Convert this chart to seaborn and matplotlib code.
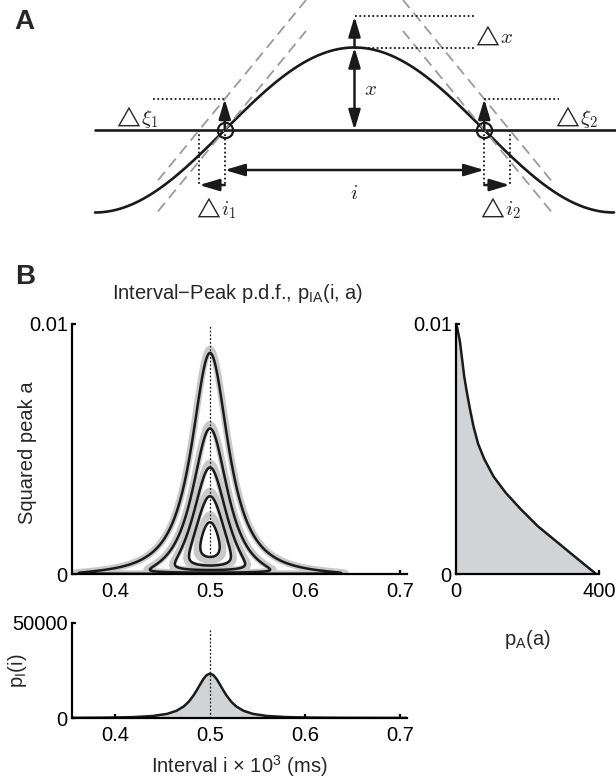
import numpy as np
import matplotlib
matplotlib.use("Agg")
import matplotlib.pyplot as plt
import seaborn as sns

# ---------------- data ----------------
# Panel A: schematic threshold crossing of a cosine-shaped pulse (phase units)
threshold = 0.0
peak_height = 1.0
noise_shift = 0.376      # size of the noise offsets (delta xi, delta x)
tangent_slope = 1.22     # slope of the dashed tangent lines

# Panel B, joint density p_IA(i, a): exponential squared peak, jitter ~ 1/sqrt(a)
interval_centre = 0.5    # ms
peak_rate = 400.0        # 1 / mean squared peak
jitter_scale = 0.0009    # interval spread (ms * sqrt(a))
low_peak_floor = 3e-5    # keeps the spread finite for vanishing peaks
loop_tops = [0.00884, 0.00582, 0.00426, 0.00311, 0.00207]  # squared peak at top of each contour

# Marginal p_I(i)
interval_ms = [0.355, 0.38, 0.40, 0.42, 0.44, 0.455, 0.465, 0.4725, 0.4775, 0.4825,
               0.486, 0.4895, 0.493, 0.4965, 0.5,
               0.5035, 0.507, 0.5105, 0.514, 0.5175, 0.5225, 0.5275, 0.535, 0.545,
               0.56, 0.58, 0.60, 0.62, 0.645, 0.707]
p_interval = [90, 150, 260, 490, 1060, 2180, 3840, 6130, 8490, 11740,
              14530, 17570, 20470, 22600, 23400,
              22600, 20470, 17570, 14530, 11740, 8490, 6130, 3840, 2180,
              1060, 490, 260, 150, 90, 30]

# Marginal p_A(a)
sq_peak = [0.0100, 0.0098, 0.0093, 0.0086, 0.0079, 0.0073, 0.0066, 0.0059, 0.0052,
           0.0046, 0.0039, 0.00325, 0.00258, 0.00191, 0.00124, 0.00057, 0.0]
p_sq_peak = [0.5, 4, 11, 17, 23, 30, 39, 49, 62, 79, 105, 139, 182, 229, 286, 343, 392]

interval_ticks = [0.4, 0.5, 0.6, 0.7]
interval_ticklabels = ["0.4", "0.5", "0.6", "0.7"]

# ---------------- style ----------------
sns.set_theme(style="ticks")
plt.rcParams.update({
    "font.family": ["Liberation Sans", "DejaVu Sans"],
    "mathtext.fontset": "custom",
    "mathtext.rm": "Liberation Sans",
    "mathtext.it": "Liberation Sans:italic",
    "mathtext.bf": "Liberation Sans:bold",
    "axes.linewidth": 1.6,
    "axes.edgecolor": "black",
    "xtick.color": "black",
    "ytick.color": "black",
    "xtick.direction": "in",
    "ytick.direction": "in",
    "xtick.major.size": 3,
    "ytick.major.size": 3,
    "xtick.major.width": 1.6,
    "ytick.major.width": 1.6,
    "xtick.labelsize": 14.5,
    "ytick.labelsize": 14.5,
    "axes.labelsize": 14.5,
})

W, H = 616, 781
fig = plt.figure(figsize=(W / 100, H / 100), dpi=100)


def rect(left, top, right, bottom):
    return [left / W, 1 - bottom / H, (right - left) / W, (bottom - top) / H]


def fig_pt(x, y):
    return x / W, 1 - y / H


FILL = "#d1d3d4"
HALO = "#c9c9c9"

# ---------------- panel A ----------------
axA = fig.add_axes([0, 1 - 230 / H, 1, 230 / H])
axA.set_xlim(-354.5 / 82.6, (616 - 354.5) / 82.6)
axA.set_ylim((130 - 230) / 82.5, 130 / 82.5)
axA.axis("off")

t = np.linspace(-np.pi, np.pi, 500)
sns.lineplot(x=t, y=peak_height * np.cos(t), ax=axA, color="k", lw=1.9, estimator=None, sort=False)
axA.plot([-np.pi, 4.0], [threshold, threshold], color="k", lw=1.9)

half = np.pi / 2
dash_kw = dict(color="#9a9a9a", lw=1.3, dashes=(6, 3.5))
tl = np.array([-2.379, -0.587])
axA.plot(tl, tangent_slope * (tl + half), **dash_kw)
axA.plot(tl, tangent_slope * (tl + half) + noise_shift, **dash_kw)
tr = -tl
axA.plot(tr, -tangent_slope * (tr - half), **dash_kw)
axA.plot(tr, -tangent_slope * (tr - half) + noise_shift, **dash_kw)

dot_kw = dict(color="k", lw=1.3, linestyle=(0, (1, 1.4)))
shift_t = noise_shift / tangent_slope
y_di = -0.667
for sgn in (-1, 1):
    axA.plot([sgn * half, sgn * half], [threshold, y_di], **dot_kw)
    axA.plot([sgn * (half + shift_t)] * 2, [threshold, y_di], **dot_kw)
axA.plot([-2.44, -half], [noise_shift, noise_shift], **dot_kw)
axA.plot([half, 2.476], [noise_shift, noise_shift], **dot_kw)
axA.plot([0, 1.471], [peak_height, peak_height], **dot_kw)
axA.plot([0, 1.471], [peak_height + noise_shift] * 2, **dot_kw)

head = "-|>,head_length=0.6,head_width=0.18"
dhead = "<|-|>,head_length=0.6,head_width=0.18"


def arrow(x0, y0, x1, y1, style=head):
    axA.annotate("", xy=(x1, y1), xytext=(x0, y0),
                 arrowprops=dict(arrowstyle=style, color="k", lw=1.8,
                                 mutation_scale=20, shrinkA=0, shrinkB=0))


arrow(0, threshold, 0, peak_height, dhead)
arrow(0, peak_height, 0, peak_height + noise_shift)
arrow(-half, threshold, -half, noise_shift)
arrow(half, threshold, half, noise_shift)
arrow(-half, y_di, -half - shift_t, y_di)
arrow(half, y_di, half + shift_t, y_di)
arrow(-half, -0.485, half, -0.485, dhead)

axA.plot([-half, half], [threshold, threshold], "o", mfc="none", mec="k", ms=11, mew=1.6)

mtxt = dict(fontsize=15, math_fontfamily="cm", ha="center", va="center")
axA.text(1.677, 1.152, r"${\triangle}\!x$", **mtxt)
axA.text(0.188, 0.485, r"$x$", **mtxt)
axA.text(-2.645, 0.158, r"${\triangle}\!\xi_1$", **mtxt)
axA.text(2.669, 0.158, r"${\triangle}\!\xi_2$", **mtxt)
axA.text(0, -0.764, r"$i$", **mtxt)
axA.text(-1.689, -0.945, r"${\triangle}\!i_1$", **mtxt)
axA.text(1.75, -0.945, r"${\triangle}\!i_2$", **mtxt)

fig.text(*fig_pt(24, 22), "A", fontsize=20, fontweight="bold", ha="center", va="center")
fig.text(*fig_pt(25, 277), "B", fontsize=20, fontweight="bold", ha="center", va="center")

# ---------------- panel B: joint density ----------------
axM = fig.add_axes(rect(72, 324, 407, 574))
ii = np.linspace(0.355, 0.707, 900)
aa = np.concatenate([np.linspace(1e-7, 0.0005, 300), np.linspace(0.0005, 0.0101, 600)[1:]])
II, AA = np.meshgrid(ii, aa)


def joint_pdf(i, a):
    s = np.sqrt(a)
    spread = jitter_scale / np.sqrt(a + low_peak_floor)
    return (peak_rate * np.exp(-peak_rate * a) * s / jitter_scale
            * np.exp(-0.5 * ((i - interval_centre) / spread) ** 2))


Z = joint_pdf(II, AA)
levels = np.sort(joint_pdf(interval_centre, np.array(loop_tops)))
axM.contour(II, AA, Z, levels=levels * 0.95, colors=HALO, linewidths=5, zorder=1)
axM.contour(II, AA, Z, levels=levels, colors="k", linewidths=1.8, zorder=2)
axM.plot([interval_centre] * 2, [0.0007, 0.0099], color="k", lw=0.9,
         linestyle=(0, (1.5, 1.5)), zorder=3)
axM.set_xlim(0.355, 0.707)
axM.set_ylim(0, 0.01)
axM.set_xticks(interval_ticks, interval_ticklabels)
axM.set_yticks([0, 0.01], ["0", "0.01"])
axM.tick_params(axis="x", pad=5.5)
axM.tick_params(axis="y", pad=3)
axM.set_ylabel("Squared peak a")
axM.yaxis.set_label_coords(-0.105, 0.485)
sns.despine(ax=axM)
fig.text(*fig_pt(237.5, 293), r"Interval−Peak p.d.f., p$_{\mathrm{IA}}$(i, a)",
         fontsize=14.5, ha="center", va="center")

# ---------------- marginal p_A(a) ----------------
axR = fig.add_axes(rect(456, 324, 599, 574))
axR.fill_betweenx(sq_peak, 0, p_sq_peak, color=FILL, lw=0)
sns.lineplot(x=p_sq_peak, y=sq_peak, ax=axR, color="k", lw=1.8, estimator=None, sort=False)
axR.set_xlim(0, 400)
axR.set_ylim(0, 0.01)
axR.set_xticks([0, 400], ["0", "400"])
axR.set_yticks([0, 0.01], ["0", "0.01"])
axR.tick_params(axis="x", pad=5.5)
axR.tick_params(axis="y", pad=3)
axR.set_xlabel(r"p$_{\mathrm{A}}$(a)", labelpad=20)
sns.despine(ax=axR)

# ---------------- marginal p_I(i) ----------------
axI = fig.add_axes(rect(72, 623, 407, 718))
axI.fill_between(interval_ms, 0, p_interval, color=FILL, lw=0)
sns.lineplot(x=interval_ms, y=p_interval, ax=axI, color="k", lw=1.8, estimator=None, sort=False)
axI.plot([interval_centre] * 2, [0, 47000], color="k", lw=0.9,
         linestyle=(0, (1.5, 1.5)), zorder=3)
axI.set_xlim(0.355, 0.707)
axI.set_ylim(0, 50000)
axI.set_xticks(interval_ticks, interval_ticklabels)
axI.set_yticks([0, 50000], ["0", "50000"])
axI.tick_params(axis="x", pad=5.5)
axI.tick_params(axis="y", pad=3)
axI.set_xlabel(r"Interval i × 10$^3$ (ms)", labelpad=6)
axI.set_ylabel(r"p$_{\mathrm{I}}$(i)")
axI.yaxis.set_label_coords(-0.128, 0.5)
sns.despine(ax=axI)

fig.savefig("out.png", dpi=100)
